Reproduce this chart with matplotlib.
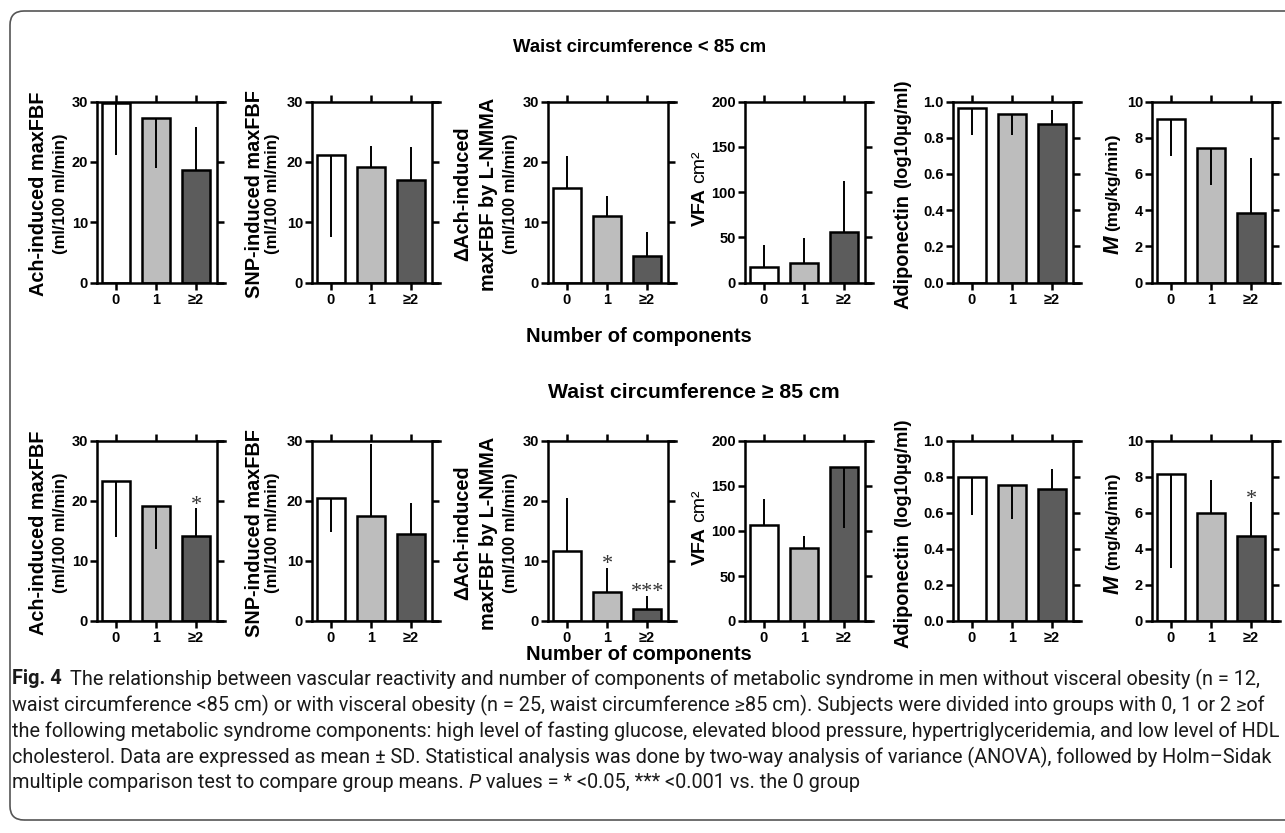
import numpy as np
import matplotlib
matplotlib.use("Agg")
import matplotlib.pyplot as plt
from matplotlib.patches import FancyBboxPatch
from matplotlib.transforms import IdentityTransform

plt.rcParams['font.family'] = ['Liberation Sans', 'DejaVu Sans']

# ---------------- data ----------------
groups = ['0', '1', '≥2']

# Waist circumference < 85 cm (top row)
ach_lt = [29.7, 27.2, 18.7]
ach_lt_sd = [8.6, 8.3, 7.0]
ach_lt_dir = [-1, -1, 1]
snp_lt = [21.1, 19.1, 17.0]
snp_lt_sd = [13.6, 3.6, 5.5]
snp_lt_dir = [-1, 1, 1]
dach_lt = [15.7, 11.1, 4.45]
dach_lt_sd = [5.2, 3.3, 3.9]
dach_lt_dir = [1, 1, 1]
vfa_lt = [17.4, 21.9, 55.6]
vfa_lt_sd = [24.1, 27.7, 56.3]
vfa_lt_dir = [1, 1, 1]
adipo_lt = [0.963, 0.932, 0.878]
adipo_lt_sd = [0.147, 0.116, 0.076]
adipo_lt_dir = [-1, -1, 1]
m_lt = [9.02, 7.42, 3.82]
m_lt_sd = [2.01, 2.03, 3.08]
m_lt_dir = [-1, -1, 1]

# Waist circumference >= 85 cm (bottom row)
ach_ge = [23.3, 19.2, 14.2]
ach_ge_sd = [9.25, 7.25, 4.6]
ach_ge_dir = [-1, -1, 1]
ach_ge_sig = ['', '', '*']
snp_ge = [20.55, 17.5, 14.5]
snp_ge_sd = [5.65, 12.0, 5.1]
snp_ge_dir = [-1, 1, 1]
snp_ge_sig = ['', '', '']
dach_ge = [11.7, 4.9, 1.95]
dach_ge_sd = [8.85, 4.0, 2.25]
dach_ge_dir = [1, 1, 1]
dach_ge_sig = ['', '*', '***']
vfa_ge = [106.7, 81.5, 170.8]
vfa_ge_sd = [28.9, 12.9, 67.8]
vfa_ge_dir = [1, 1, -1]
vfa_ge_sig = ['', '', '']
adipo_ge = [0.80, 0.756, 0.732]
adipo_ge_sd = [0.212, 0.192, 0.112]
adipo_ge_dir = [-1, -1, 1]
adipo_ge_sig = ['', '', '']
m_ge = [8.15, 6.02, 4.7]
m_ge_sd = [5.2, 1.8, 1.9]
m_ge_dir = [-1, 1, 1]
m_ge_sig = ['', '', '*']

ach_ticks = [0, 10, 20, 30]
vfa_ticks = [0, 50, 100, 150, 200]
adipo_ticks = [0.0, 0.2, 0.4, 0.6, 0.8, 1.0]
adipo_ticklabels = ['0.0', '0.2', '0.4', '0.6', '0.8', '1.0']
m_ticks = [0, 2, 4, 6, 8, 10]

title_top = 'Waist circumference < 85 cm'
title_bottom = 'Waist circumference ≥ 85 cm'
xlabel = 'Number of components'

caption_l1_bold = 'Fig. 4'
caption_l1 = ('The relationship between vascular reactivity and number of components of metabolic '
              'syndrome in men without visceral obesity (n = 12,')
caption_l2 = ('waist circumference <85 cm) or with visceral obesity (n = 25, waist circumference ≥85 cm). '
              'Subjects were divided into groups with 0, 1 or 2 ≥of')
caption_l3 = ('the following metabolic syndrome components: high level of fasting glucose, elevated '
              'blood pressure, hypertriglyceridemia, and low level of HDL')
caption_l4 = ('cholesterol. Data are expressed as mean ± SD. Statistical analysis was done by two-way '
              'analysis of variance (ANOVA), followed by Holm–Sidak')
caption_l5a = 'multiple comparison test to compare group means. '
caption_l5b = 'P'
caption_l5c = ' values = * <0.05, *** <0.001 vs. the 0 group'

# ---------------- layout ----------------
W, H = 1285, 833
fig = plt.figure(figsize=(W / 100, H / 100), dpi=100)
renderer = fig.canvas.get_renderer()
ID = IdentityTransform()

bar_colors = ['white', '#bdbdbd', '#5c5c5c']
LW = 1.8
TICKFS = 10.5


def text_width(s, **kw):
    t = fig.text(0, 0, s, **kw)
    w = t.get_window_extent(renderer).width
    t.remove()
    return w


def vlabel(pieces, x_px, yc_px, gap=5):
    widths = [text_width(s, fontsize=fs, fontweight=fw, fontstyle=st) for s, fs, fw, st in pieces]
    total = sum(widths) + gap * (len(pieces) - 1)
    y = (H - yc_px) - total / 2
    for (s, fs, fw, st), w in zip(pieces, widths):
        fig.text(x_px, y, s, transform=ID, rotation=90, rotation_mode='anchor',
                 ha='left', va='center', fontsize=fs, fontweight=fw, fontstyle=st)
        y += w + gap


def draw_panel(left_px, top_px, bottom_px, means, sds, dirs, ylim, yticks, yticklabels=None, sig=None):
    width_px = 128
    ax = fig.add_axes([left_px / W, 1 - bottom_px / H, width_px / W, (bottom_px - top_px) / H])
    x = np.arange(len(groups))
    ax.bar(x, means, width=0.7, color=bar_colors, edgecolor='black', linewidth=LW, zorder=2)
    lower = [s if d < 0 else 0 for s, d in zip(sds, dirs)]
    upper = [s if d > 0 else 0 for s, d in zip(sds, dirs)]
    ax.errorbar(x, means, yerr=[lower, upper], fmt='none', ecolor='black',
                elinewidth=1.4, capsize=0, zorder=3)
    if sig is not None:
        for xi, m, u, s in zip(x, means, upper, sig):
            if s:
                ax.annotate(s, xy=(xi, m + u), xytext=(0, -1), textcoords='offset points',
                            ha='center', va='baseline', fontsize=16, color='#333333',
                            family='Liberation Serif', annotation_clip=False)
    ax.set_xlim(-0.47, 2.72)
    ax.set_ylim(ylim)
    ax.set_xticks(x)
    ax.set_xticklabels(groups)
    ax.set_yticks(yticks)
    if yticklabels is not None:
        ax.set_yticklabels(yticklabels)
    ax.tick_params(axis='both', direction='out', width=LW, length=5, labelsize=TICKFS, pad=1.5)
    ax.tick_params(axis='x', top=True, length=5, pad=2.5)
    ax.tick_params(axis='y', right=True)
    for sp in ax.spines.values():
        sp.set_linewidth(LW)
    ax.spines['right'].set_position(('axes', 0.937))
    for lab in ax.get_xticklabels() + ax.get_yticklabels():
        lab.set_fontweight('bold')
    ax.patch.set_alpha(0)
    return ax


lefts = [97, 312, 548, 745, 953, 1152]
rows = [
    (101.5, 282.5, [
        (ach_lt, ach_lt_sd, ach_lt_dir, (0, 30), ach_ticks, None, None),
        (snp_lt, snp_lt_sd, snp_lt_dir, (0, 30), ach_ticks, None, None),
        (dach_lt, dach_lt_sd, dach_lt_dir, (0, 30), ach_ticks, None, None),
        (vfa_lt, vfa_lt_sd, vfa_lt_dir, (0, 200), vfa_ticks, None, None),
        (adipo_lt, adipo_lt_sd, adipo_lt_dir, (0, 1.0), adipo_ticks, adipo_ticklabels, None),
        (m_lt, m_lt_sd, m_lt_dir, (0, 10), m_ticks, None, None),
    ]),
    (441, 621, [
        (ach_ge, ach_ge_sd, ach_ge_dir, (0, 30), ach_ticks, None, ach_ge_sig),
        (snp_ge, snp_ge_sd, snp_ge_dir, (0, 30), ach_ticks, None, snp_ge_sig),
        (dach_ge, dach_ge_sd, dach_ge_dir, (0, 30), ach_ticks, None, dach_ge_sig),
        (vfa_ge, vfa_ge_sd, vfa_ge_dir, (0, 200), vfa_ticks, None, vfa_ge_sig),
        (adipo_ge, adipo_ge_sd, adipo_ge_dir, (0, 1.0), adipo_ticks, adipo_ticklabels, adipo_ge_sig),
        (m_ge, m_ge_sd, m_ge_dir, (0, 10), m_ticks, None, m_ge_sig),
    ]),
]

BIG = 14.3
MID = 12.0
for top_px, bot_px, panels in rows:
    for left, (mv, sv, dv, yl, yt, ytl, sg) in zip(lefts, panels):
        draw_panel(left, top_px, bot_px, mv, sv, dv, yl, yt, ytl, sg)
    yc = (top_px + bot_px) / 2 + 2
    # y labels
    vlabel([('Ach-induced maxFBF', BIG, 'bold', 'normal')], lefts[0] - 58, yc)
    vlabel([('(ml/100 ml/min)', MID, 'bold', 'normal')], lefts[0] - 37, yc)
    vlabel([('SNP-induced maxFBF', BIG, 'bold', 'normal')], lefts[1] - 58, yc)
    vlabel([('(ml/100 ml/min)', MID, 'bold', 'normal')], lefts[1] - 39, yc)
    vlabel([('ΔAch-induced', BIG, 'bold', 'normal')], lefts[2] - 85, yc)
    vlabel([('maxFBF by L-NMMA', BIG, 'bold', 'normal')], lefts[2] - 60, yc)
    vlabel([('(ml/100 ml/min)', MID, 'bold', 'normal')], lefts[2] - 38, yc)
    vlabel([('VFA', 14, 'bold', 'normal'), ('cm²', 14, 'normal', 'normal')], lefts[3] - 45, yc - 6)
    vlabel([('Adiponectin', BIG, 'bold', 'normal'), ('(log10µg/ml)', 13.2, 'bold', 'normal')],
           lefts[4] - 50, yc, gap=6)
    vlabel([('M', 16, 'bold', 'italic'), ('(mg/kg/min)', 12.3, 'bold', 'normal')],
           lefts[5] - 39, yc, gap=5)

fig.text(640, H - 47, title_top, transform=ID, ha='center', va='center', fontsize=13.3, fontweight='bold')
fig.text(694, H - 393, title_bottom, transform=ID, ha='center', va='center', fontsize=15.3, fontweight='bold')
fig.text(639, H - 337, xlabel, transform=ID, ha='center', va='center', fontsize=14.5, fontweight='bold')
fig.text(639, H - 655, xlabel, transform=ID, ha='center', va='center', fontsize=14.5, fontweight='bold')

# ---------------- caption ----------------
cap_family = ['Roboto', 'DejaVu Sans']
w10 = text_width(caption_l3, fontsize=10, family=cap_family)
cap_fs = 10 * 1268 / w10
cx = 12
cap_y = [679, 705, 731, 757, 783]


def hline(pieces, x_px, y_px, gap=0):
    x = x_px
    for s, fw, st in pieces:
        fig.text(x, H - y_px, s, transform=ID, ha='left', va='center', fontsize=cap_fs,
                 fontweight=fw, fontstyle=st, family=cap_family, color='#1a1a1a')
        x += text_width(s, fontsize=cap_fs, fontweight=fw, fontstyle=st, family=cap_family) + gap


hline([(caption_l1_bold, 'bold', 'normal'), (caption_l1, 'normal', 'normal')], cx, cap_y[0], gap=8)
for s, y in zip([caption_l2, caption_l3, caption_l4], cap_y[1:4]):
    fig.text(cx, H - y, s, transform=ID, ha='left', va='center', fontsize=cap_fs,
             family=cap_family, color='#1a1a1a')
hline([(caption_l5a, 'normal', 'normal'), (caption_l5b, 'normal', 'italic'),
       (caption_l5c, 'normal', 'normal')], cx, cap_y[4])

# ---------------- frame ----------------
frame = FancyBboxPatch((10, 13), 1300, 809, boxstyle='round,pad=0,rounding_size=14',
                       transform=ID, fill=False, edgecolor='#555555', linewidth=1.2)
fig.add_artist(frame)

fig.savefig('out.png', dpi=100)
